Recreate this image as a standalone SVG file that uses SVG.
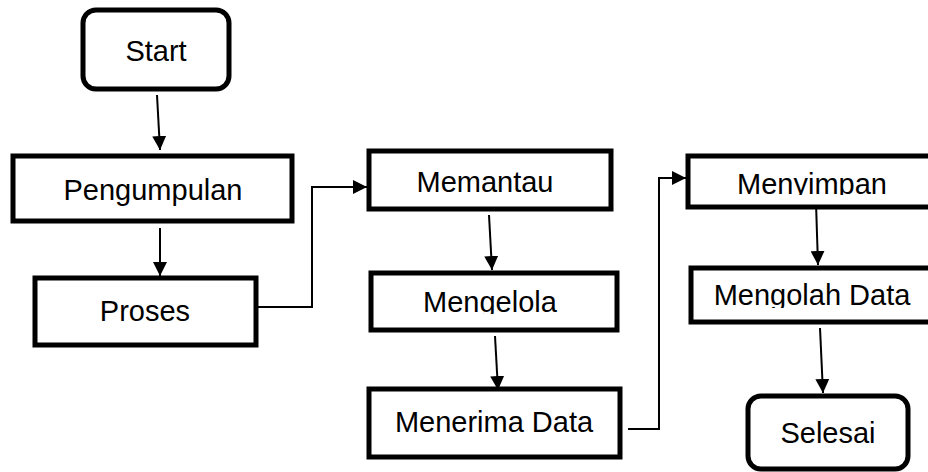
<svg xmlns="http://www.w3.org/2000/svg" width="928" height="472" viewBox="0 0 928 472">
<style>
.box{fill:#fff;stroke:#000;stroke-width:5}
.t{font-family:"Liberation Sans",Arial,sans-serif;font-size:29px;fill:#000;text-anchor:middle}
.c{fill:none;stroke:#000;stroke-width:2}
</style>
<defs>
<marker id="ah" viewBox="0 0 14 14" refX="14" refY="7" markerWidth="14" markerHeight="14" markerUnits="userSpaceOnUse" orient="auto">
<path d="M0,0 L14,7 L0,14 Z" fill="#000"/>
</marker>
<clipPath id="clipMenyimpan"><rect x="687" y="155" width="241" height="40"/></clipPath>
<clipPath id="clipMengolah"><rect x="690" y="267" width="238" height="41"/></clipPath>
<clipPath id="clipMengelola"><rect x="370" y="272" width="247" height="42"/></clipPath>
</defs>
<g id="connectors">
<path class="c" d="M157,95 L160,150" marker-end="url(#ah)"/>
<path class="c" d="M160,228 L160,276" marker-end="url(#ah)"/>
<path class="c" d="M258,307 L312,307 L312,187 L367,187" marker-end="url(#ah)"/>
<path class="c" d="M489,215 L492,270" marker-end="url(#ah)"/>
<path class="c" d="M495,336 L498,390" marker-end="url(#ah)"/>
<path class="c" d="M628,429 L659,429 L659,178 L686,178" marker-end="url(#ah)"/>
<path class="c" d="M816,203 L818,265" marker-end="url(#ah)"/>
<path class="c" d="M820,328 L823,393" marker-end="url(#ah)"/>
</g>
<g id="start">
<rect class="box" x="83" y="10" width="146" height="79" rx="13"/>
<text class="t" x="156" y="61">Start</text>
</g>
<g id="pengumpulan">
<rect class="box" x="13" y="156" width="279" height="65"/>
<text class="t" x="153" y="200">Pengumpulan</text>
</g>
<g id="proses">
<rect class="box" x="35" y="278" width="221" height="67"/>
<text class="t" x="145" y="321">Proses</text>
</g>
<g id="memantau">
<rect class="box" x="369" y="151" width="242" height="58"/>
<text class="t" x="485" y="192">Memantau</text>
</g>
<g id="mengelola">
<rect class="box" x="371" y="273" width="246" height="57"/>
<text class="t" x="490" y="312" clip-path="url(#clipMengelola)">Mengelola</text>
</g>
<g id="menerima">
<rect class="box" x="369" y="389" width="251" height="68"/>
<text class="t" x="494" y="432">Menerima Data</text>
</g>
<g id="menyimpan">
<rect class="box" x="688" y="156" width="260" height="51"/>
<text class="t" x="812" y="194" clip-path="url(#clipMenyimpan)">Menyimpan</text>
</g>
<g id="mengolah">
<rect class="box" x="691" y="268" width="260" height="54"/>
<text class="t" x="812" y="305" clip-path="url(#clipMengolah)">Mengolah Data</text>
</g>
<g id="selesai">
<rect class="box" x="748" y="396" width="160" height="73" rx="13"/>
<text class="t" x="828" y="443">Selesai</text>
</g>
</svg>
